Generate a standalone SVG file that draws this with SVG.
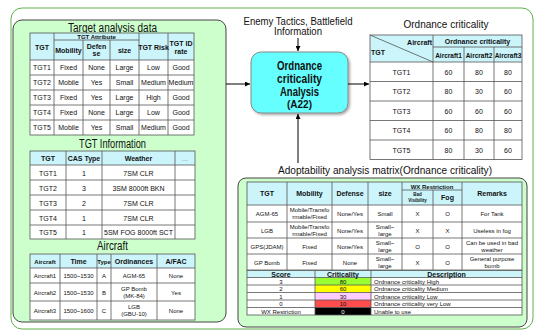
<svg xmlns="http://www.w3.org/2000/svg" width="536" height="330" viewBox="0 0 536 330">
<defs>
<marker id="ah" viewBox="0 0 10 10" refX="10" refY="5" markerWidth="5" markerHeight="5" orient="auto-start-reverse" markerUnits="userSpaceOnUse"><path d="M0,0 L10,5 L0,10 z" fill="#000"/></marker>
<filter id="sh" x="-10%" y="-10%" width="130%" height="130%"><feDropShadow dx="1.5" dy="1.5" stdDeviation="1" flood-color="#000" flood-opacity="0.35"/></filter>
</defs>
<style>
text{font-family:"Liberation Sans",Arial,sans-serif;fill:#111;text-anchor:middle}
.d{font-size:7px}
.h{font-size:7px;font-weight:bold}
.s{font-size:6px}
.ttl{font-size:12.5px}
.hd{fill:#ccf4fb}
.wb{fill:#fff}
.g{stroke:#555;stroke-width:0.8;fill:none}
.panel{fill:#ccffcc;stroke:#444;stroke-width:1}
.l{text-anchor:start}
.e{text-anchor:end}
.bx{font-size:12.5px;font-weight:bold}
</style>
<rect x="11" y="8" width="522" height="321" rx="11" fill="none" stroke="#5fb04a" stroke-width="1"/>

<g id="left-panel">
<rect class="panel" x="13" y="20" width="213" height="302" rx="9"/>
</g>

<g id="target-analysis">
<text class="ttl" x="112.5" y="32" textLength="89" lengthAdjust="spacingAndGlyphs">Target analysis data</text>
<rect class="hd" x="30" y="33" width="164" height="27"/>
<rect class="wb" x="30" y="60" width="164" height="75"/>
<rect class="g" x="30" y="33" width="164" height="102"/>
<path class="g" d="M54,40H139M30,60H194M30,75H194M30,90H194M30,105H194M30,120H194M54,33V135M139,33V135M168,33V135M83,40V135M110,40V135"/>
<text class="h" x="42" y="50">TGT</text>
<text class="h" style="font-size:6px" x="96.5" y="39">TGT Attribute</text>
<text class="h" x="68.5" y="53">Mobility</text>
<text class="h" x="96.5" y="49">Defen</text><text class="h" x="96.5" y="56">se</text>
<text class="h" x="124.5" y="53">size</text>
<text class="h" x="153.5" y="50">TGT Risk</text>
<text class="h" x="181" y="46">TGT ID</text><text class="h" x="181" y="54">rate</text>
<text class="d" x="42" y="70">TGT1</text><text class="d" x="68.5" y="70">Fixed</text><text class="d" x="96.5" y="70">None</text><text class="d" x="124.5" y="70">Large</text><text class="d" x="153.5" y="70">Low</text><text class="d" x="181" y="70">Good</text>
<text class="d" x="42" y="85">TGT2</text><text class="d" x="68.5" y="85">Mobile</text><text class="d" x="96.5" y="85">Yes</text><text class="d" x="124.5" y="85">Small</text><text class="d" x="153.5" y="85">Medium</text><text class="d" x="181" y="85">Medium</text>
<text class="d" x="42" y="100">TGT3</text><text class="d" x="68.5" y="100">Fixed</text><text class="d" x="96.5" y="100">Yes</text><text class="d" x="124.5" y="100">Large</text><text class="d" x="153.5" y="100">High</text><text class="d" x="181" y="100">Good</text>
<text class="d" x="42" y="115">TGT4</text><text class="d" x="68.5" y="115">Fixed</text><text class="d" x="96.5" y="115">None</text><text class="d" x="124.5" y="115">Large</text><text class="d" x="153.5" y="115">Low</text><text class="d" x="181" y="115">Good</text>
<text class="d" x="42" y="130">TGT5</text><text class="d" x="68.5" y="130">Mobile</text><text class="d" x="96.5" y="130">Yes</text><text class="d" x="124.5" y="130">Small</text><text class="d" x="153.5" y="130">Medium</text><text class="d" x="181" y="130">Good</text>
</g>

<g id="tgt-information">
<text class="ttl" x="112.5" y="147.5" textLength="67" lengthAdjust="spacingAndGlyphs">TGT Information</text>
<rect class="hd" x="30" y="151" width="165" height="14"/>
<rect class="wb" x="30" y="165" width="165" height="74"/>
<rect class="g" x="30" y="151" width="165" height="88"/>
<path class="g" d="M30,165H195M30,180H195M30,195H195M30,210H195M30,225H195M66,151V239M102,151V239M175,151V239"/>
<text class="h" x="48" y="160.5">TGT</text><text class="h" x="84" y="160.5">CAS Type</text><text class="h" x="138.5" y="160.5">Weather</text><text class="d" x="185" y="160.5" style="fill:#888">...</text>
<text class="d" x="48" y="175.5">TGT1</text><text class="d" x="84" y="175.5">1</text><text class="d" x="138.5" y="175.5">7SM CLR</text>
<text class="d" x="48" y="190.5">TGT2</text><text class="d" x="84" y="190.5">3</text><text class="d" x="138.5" y="190.5">3SM 8000ft BKN</text>
<text class="d" x="48" y="205.5">TGT3</text><text class="d" x="84" y="205.5">2</text><text class="d" x="138.5" y="205.5">7SM CLR</text>
<text class="d" x="48" y="220.5">TGT4</text><text class="d" x="84" y="220.5">1</text><text class="d" x="138.5" y="220.5">7SM CLR</text>
<text class="d" x="48" y="235">TGT5</text><text class="d" x="84" y="235">1</text><text class="d" x="138.5" y="235">5SM FOG 8000ft SCT</text>
</g>

<g id="aircraft">
<text class="ttl" x="112.5" y="250" textLength="31" lengthAdjust="spacingAndGlyphs">Aircraft</text>
<rect class="hd" x="30" y="254" width="165" height="14"/>
<rect class="wb" x="30" y="268" width="165" height="52"/>
<rect class="g" x="30" y="254" width="165" height="66"/>
<path class="g" d="M30,268H195M30,283H195M30,301H195M60,254V320M97,254V320M111,254V320M157,254V320"/>
<text class="h" x="45" y="263.5" style="font-size:6px">Aircraft</text><text class="h" x="78.5" y="263.5">Time</text><text class="h" x="104" y="263.5" style="font-size:6px">Type</text><text class="h" x="134" y="263.5">Ordinances</text><text class="h" x="176" y="263.5">A/FAC</text>
<text class="s" x="45" y="278">Aircraft1</text><text class="s" x="78.5" y="278">1500~1530</text><text class="s" x="104" y="278">A</text><text class="s" x="134" y="278">AGM-65</text><text class="s" x="176" y="278">None</text>
<text class="s" x="45" y="294.5">Aircraft2</text><text class="s" x="78.5" y="294.5">1500~1530</text><text class="s" x="104" y="294.5">B</text><text class="s" x="134" y="290.5">GP Bomb</text><text class="s" x="134" y="298">(MK-84)</text><text class="s" x="176" y="294.5">Yes</text>
<text class="s" x="45" y="313">Aircraft3</text><text class="s" x="78.5" y="313">1500~1600</text><text class="s" x="104" y="313">C</text><text class="s" x="134" y="308.5">LGB</text><text class="s" x="134" y="316">(GBU-10)</text><text class="s" x="176" y="313">None</text>
</g>

<g id="enemy-tactics">
<text x="298" y="24.5" style="font-size:10px" textLength="109" lengthAdjust="spacingAndGlyphs">Enemy Tactics, Battlefield</text>
<text x="298" y="35" style="font-size:10px" textLength="48" lengthAdjust="spacingAndGlyphs">Information</text>
</g>

<g id="ordnance-analysis">
<rect x="251" y="52" width="97" height="61" rx="10" fill="#66ffff" stroke="#888" stroke-width="1" filter="url(#sh)"/>
<text class="bx" x="299.5" y="70" textLength="45" lengthAdjust="spacingAndGlyphs">Ordnance</text>
<text class="bx" x="299.5" y="83" textLength="45" lengthAdjust="spacingAndGlyphs">criticality</text>
<text class="bx" x="299.5" y="95.5" textLength="39" lengthAdjust="spacingAndGlyphs">Analysis</text>
<text class="bx" x="299.5" y="108" style="font-size:11px" textLength="25" lengthAdjust="spacingAndGlyphs">(A22)</text>
</g>

<g id="ordnance-criticality">
<text x="446" y="28" style="font-size:11px" textLength="85" lengthAdjust="spacingAndGlyphs">Ordnance criticality</text>
<rect class="hd" x="370" y="35" width="152" height="27"/>
<rect class="wb" x="370" y="62" width="152" height="97.5"/>
<rect class="g" x="370" y="35" width="152" height="124.5"/>
<path class="g" d="M433,47H522M370,62H522M370,81.5H522M370,101H522M370,120.5H522M370,140H522M433,35V159.5M464,47V159.5M494,47V159.5M370,35L433,62"/>
<text class="h" x="477.5" y="44">Ordnance criticality</text>
<text class="h e" x="432" y="45">Aircraft</text>
<text class="h l" x="371" y="55">TGT</text>
<text class="h" x="448.5" y="57.5" style="font-size:6.5px">Aircraft1</text><text class="h" x="479" y="57.5" style="font-size:6.5px">Aircraft2</text><text class="h" x="508" y="57.5" style="font-size:6.5px">Aircraft3</text>
<text class="d" x="401.5" y="74.5">TGT1</text><text class="d" x="448.5" y="74.5">60</text><text class="d" x="479" y="74.5">80</text><text class="d" x="508" y="74.5">80</text>
<text class="d" x="401.5" y="94">TGT2</text><text class="d" x="448.5" y="94">80</text><text class="d" x="479" y="94">30</text><text class="d" x="508" y="94">60</text>
<text class="d" x="401.5" y="113.5">TGT3</text><text class="d" x="448.5" y="113.5">60</text><text class="d" x="479" y="113.5">60</text><text class="d" x="508" y="113.5">60</text>
<text class="d" x="401.5" y="133">TGT4</text><text class="d" x="448.5" y="133">60</text><text class="d" x="479" y="133">80</text><text class="d" x="508" y="133">80</text>
<text class="d" x="401.5" y="152.5">TGT5</text><text class="d" x="448.5" y="152.5">80</text><text class="d" x="479" y="152.5">30</text><text class="d" x="508" y="152.5">60</text>
</g>

<g id="adoptability">
<text x="385" y="174" style="font-size:11px" textLength="214" lengthAdjust="spacingAndGlyphs">Adoptability analysis matrix(Ordnance criticality)</text>
<rect class="panel" x="238" y="178" width="289" height="149" rx="8"/>
<rect class="hd" x="247" y="182" width="275" height="23"/>
<rect class="wb" x="247" y="205" width="275" height="65"/>
<rect class="g" x="247" y="182" width="275" height="88"/>
<path class="g" d="M402,190H462M247,205H522M247,222H522M247,238H522M247,254H522M287,182V270M332,182V270M368,182V270M402,182V270M462,182V270M433,190V270"/>
<text class="h" x="267" y="196">TGT</text><text class="h" x="309.5" y="196">Mobility</text><text class="h" x="350" y="196">Defense</text><text class="h" x="385" y="196">size</text>
<text class="h" x="432" y="188.5" style="font-size:6px">WX Restriction</text>
<text class="h" x="417.5" y="196" style="font-size:4.5px">Bad</text><text class="h" x="417.5" y="201.5" style="font-size:4.5px">Visibility</text>
<text class="h" x="447.5" y="200">Fog</text><text class="h" x="492" y="196">Remarks</text>
<text class="s" x="267" y="216">AGM-65</text><text class="s" x="309.5" y="211.5">Mobile/Transfo</text><text class="s" x="309.5" y="219">rmable/Fixed</text><text class="s" x="350" y="216">None/Yes</text><text class="s" x="385" y="216">Small</text><text class="s" x="417.5" y="216">X</text><text class="s" x="447.5" y="216">O</text><text class="s" x="492" y="216">For Tank</text>
<text class="s" x="267" y="232.5">LGB</text><text class="s" x="309.5" y="228.5">Mobile/Transfo</text><text class="s" x="309.5" y="235.5">rmable/Fixed</text><text class="s" x="350" y="232.5">None/Yes</text><text class="s" x="385" y="228.5">Small~</text><text class="s" x="385" y="235.5">large</text><text class="s" x="417.5" y="232.5">X</text><text class="s" x="447.5" y="232.5">X</text><text class="s" x="492" y="232.5">Useless in fog</text>
<text class="s" x="267" y="248.5">GPS(JDAM)</text><text class="s" x="309.5" y="248.5">Fixed</text><text class="s" x="350" y="248.5">None/Yes</text><text class="s" x="385" y="244.5">Small~</text><text class="s" x="385" y="251.5">large</text><text class="s" x="417.5" y="248.5">O</text><text class="s" x="447.5" y="248.5">O</text><text class="s" x="492" y="244.5">Can be used in bad</text><text class="s" x="492" y="251.5">weather</text>
<text class="s" x="267" y="264.5">GP Bomb</text><text class="s" x="309.5" y="264.5">Fixed</text><text class="s" x="350" y="264.5">None</text><text class="s" x="385" y="260.5">Small~</text><text class="s" x="385" y="267.5">large</text><text class="s" x="417.5" y="264.5">X</text><text class="s" x="447.5" y="264.5">O</text><text class="s" x="492" y="260.5">General purpose</text><text class="s" x="492" y="267.5">bomb</text>
</g>

<g id="legend">
<rect class="hd" x="247" y="270.5" width="275" height="7"/>
<rect class="wb" x="247" y="277.5" width="275" height="37.5"/>
<rect x="315" y="277.5" width="56" height="7.5" fill="#99ff33"/>
<rect x="315" y="285" width="56" height="7.5" fill="#ffff00"/>
<rect x="315" y="292.5" width="56" height="7.5" fill="#ffccff"/>
<rect x="315" y="300" width="56" height="7.5" fill="#ff4d4d"/>
<rect x="315" y="307.5" width="56" height="7.5" fill="#000"/>
<rect class="g" x="247" y="270.5" width="275" height="44.5"/>
<path class="g" d="M247,277.5H522M247,285H522M247,292.5H522M247,300H522M247,307.5H522M315,270.5V315M371,270.5V315"/>
<text class="h" x="281" y="276.5">Score</text><text class="h" x="343" y="276.5">Criticality</text><text class="h" x="446.5" y="276.5">Description</text>
<text class="s" x="281" y="283.5">3</text><text class="s" x="343" y="283.5">80</text><text class="s l" x="374" y="283.5">Ordnance criticality High</text>
<text class="s" x="281" y="291">2</text><text class="s" x="343" y="291">60</text><text class="s l" x="374" y="291">Ordnance criticality Medium</text>
<text class="s" x="281" y="298.5">1</text><text class="s" x="343" y="298.5">30</text><text class="s l" x="374" y="298.5">Ordnance criticality Low</text>
<text class="s" x="281" y="306">0</text><text class="s" x="343" y="306">10</text><text class="s l" x="374" y="306">Ordnance criticality very Low</text>
<text class="s" x="281" y="313.5">WX Restriction</text><text class="s" x="343" y="313.5" style="fill:#fff">0</text><text class="s l" x="374" y="313.5">Unable to use</text>
</g>

<g id="connectors" stroke="#000" stroke-width="1" fill="none">
<path d="M298,38V51" marker-end="url(#ah)"/>
<path d="M226,84H250" marker-end="url(#ah)"/>
<path d="M348,84H369" marker-end="url(#ah)"/>
<path d="M298,163V114" marker-end="url(#ah)"/>
</g>
</svg>
